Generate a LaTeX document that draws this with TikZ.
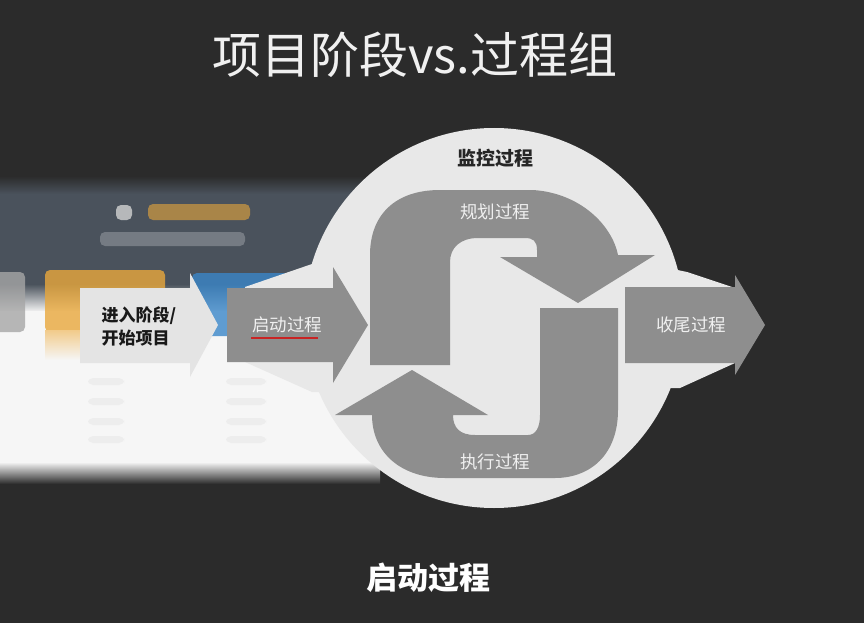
\documentclass[tikz,border=0pt]{standalone}
\usepackage{fontspec}
\usepackage{tikz}
\usetikzlibrary{calc}
\newfontfamily\cjk{Noto Sans CJK SC}
\definecolor{bgdark}{RGB}{43,43,43}
\definecolor{ringgray}{RGB}{232,232,232}
\definecolor{procgray}{RGB}{142,142,142}
\definecolor{entrygray}{RGB}{228,228,228}
\definecolor{slate}{RGB}{74,82,92}
\definecolor{slidewhite}{RGB}{246,246,246}
\definecolor{slideorange}{RGB}{233,168,60}
\definecolor{slideblue}{RGB}{58,134,200}
\definecolor{markred}{RGB}{200,36,36}

\begin{document}
\begin{tikzpicture}[x=1pt, y=-1pt,
    proc/.style={fill=procgray},
    lbl/.style={text=white!94!black, font=\cjk\fontsize{17.5}{20}\selectfont},
    blob/.style={rounded corners=5, fill opacity=0.8}]
    \useasboundingbox (0,0) rectangle (864,623);
    \fill[bgdark] (0,0) rectangle (864,623);

    % Blurred slide behind
    \fill[slate] (0,192) rectangle (382,285);
    \shade[top color=bgdark, bottom color=slate] (0,176) rectangle (382,194);
    \shade[top color=slate, bottom color=slidewhite] (0,284) rectangle (382,312);
    \fill[slidewhite] (0,311) rectangle (382,463);
    \shade[top color=slidewhite, bottom color=bgdark] (0,462) rectangle (380,484);
    \fill[blob, fill=gray!70] (-5,272) rectangle (25,332);
    \fill[blob, fill=slideorange] (45,270) rectangle (165,332);
    \shade[top color=slideorange!60, bottom color=slidewhite] (45,330) rectangle (165,360);
    \fill[blob, fill=slideblue] (192,273) rectangle (320,336);
    \fill[blob, fill=gray!35] (116,205) rectangle (132,220);
    \fill[blob, fill=slideorange!75!slate] (148,204) rectangle (250,220);
    \fill[blob, fill=slate!70!white] (100,232) rectangle (245,246);
    \foreach \y in {378,398,418,436} {
        \fill[blob, fill=black!8] (88,\y) rectangle (124,\y+7);
        \fill[blob, fill=black!8] (226,\y) rectangle (266,\y+7);
    }

    % Monitoring ring with halos
    \fill[ringgray] (494,318) circle[radius=190];
    \fill[ringgray] (245,287) -- (312,264) -- (340,264) -- (340,392) -- (312,392) -- (245,362) -- cycle;
    \fill[ringgray] (668,268) -- (687,272) -- (735,288) -- (735,363) -- (680,388) -- (660,388) -- cycle;

    % Entry and closing arrows
    \fill[entrygray] (80,288) -- (190,288) -- (190,273) -- (218,325) -- (190,377) -- (190,363) -- (80,363) -- cycle;
    \fill[proc] (227,288) -- (333,288) -- (333,267) -- (368,325) -- (333,383) -- (333,362) -- (227,362) -- cycle;
    \fill[proc] (625,287) -- (735,287) -- (735,275) -- (765,325) -- (735,375) -- (735,363) -- (625,363) -- cycle;

    % Planning arrow (top)
    \fill[proc] (370,365) -- (370,255) .. controls (370,215) and (395,190) .. (440,190)
        -- (533,190) .. controls (580,193) and (612,225) .. (618,255)
        -- (655,255) -- (578,303) -- (500,257) -- (537,257) -- (537,250)
        .. controls (537,241) and (533,238) .. (525,238) -- (478,238)
        .. controls (460,238) and (450,248) .. (450,262) -- (450,365) -- cycle;

    % Executing arrow (bottom)
    \fill[proc] (618,308) -- (618,410) .. controls (618,455) and (590,478) .. (555,478)
        -- (445,478) .. controls (400,478) and (372,452) .. (372,415)
        -- (335,415) -- (412,370) -- (488,415) -- (453,415)
        .. controls (453,428) and (460,435) .. (475,435) -- (528,435)
        .. controls (536,435) and (540,427) .. (540,415) -- (540,308) -- cycle;

    % Labels
    \node[text=white!94!black, font=\cjk\fontsize{49}{56}\selectfont] (title) at (415,55) {项目阶段vs.过程组};
    \node[text=black!85, font=\cjk\bfseries\fontsize{19}{22}\selectfont] (monitor) at (495,158) {监控过程};
    \node[lbl] (plan) at (495,212) {规划过程};
    \node[lbl] (exec) at (495,462) {执行过程};
    \node[lbl] (close) at (691,325) {收尾过程};
    \node[lbl] (init) at (287,325) {启动过程};
    \coordinate (ulA) at (251,338);
    \coordinate (ulB) at (318,338);
    \draw[markred, line width=2] (ulA) -- (ulB);
    \node[text=black!90, font=\cjk\bfseries\fontsize{17}{23}\selectfont, align=left] (entry) at (139,326) {进入阶段/\\开始项目};
    \node[text=white, font=\cjk\bfseries\fontsize{31}{36}\selectfont] (caption) at (428,578) {启动过程};
\end{tikzpicture}
\end{document}
